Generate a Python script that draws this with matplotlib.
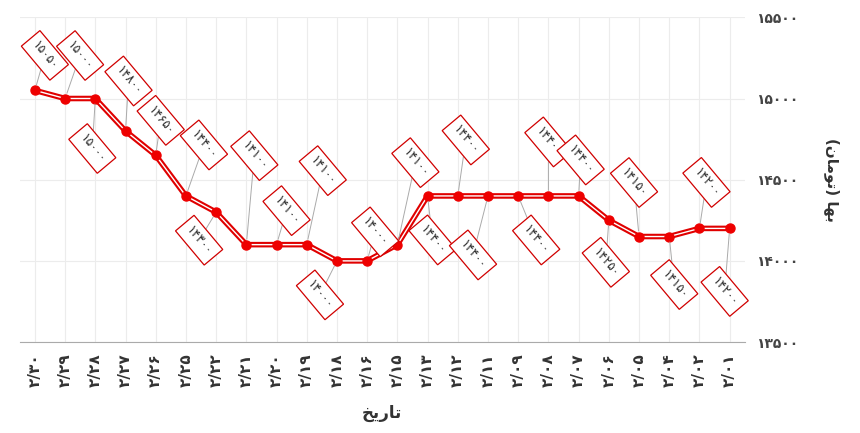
import matplotlib
matplotlib.use("Agg")
import matplotlib.pyplot as plt

dates = ["۲/۳۰","۲/۲۹","۲/۲۸","۲/۲۷","۲/۲۶","۲/۲۵","۲/۲۲","۲/۲۱","۲/۲۰","۲/۱۹","۲/۱۸","۲/۱۶",
         "۲/۱۵","۲/۱۳","۲/۱۲","۲/۱۱","۲/۰۹","۲/۰۸","۲/۰۷","۲/۰۶","۲/۰۵","۲/۰۴","۲/۰۲","۲/۰۱"]
prices = [15050,15000,15000,14800,14650,14400,14300,14100,14100,14100,14000,14000,
          14100,14400,14400,14400,14400,14400,14400,14250,14150,14150,14200,14200]
yticks = [13500,14000,14500,15000,15500]

def fa(n):
    return str(n).translate(str.maketrans("0123456789","۰۱۲۳۴۵۶۷۸۹"))

# label offsets in pixels - placement only
offs_px = [(10,35),(15,43),(-3,-50),(3,50),(5,35),(18,51),(-17,-28),(8,89),(10,34),(16,74),(-17,-34),(8,29),
           (18,82),(5,-44),(8,56),(-15,-59),(18,-44),(0,54),(2,36),(-3,-42),(-5,54),(5,-48),(7,46),(-5,-63)]
offs = [(a*0.72, b*0.72) for a, b in offs_px]

fig = plt.figure(figsize=(8.6,4.33), dpi=100)
ax = fig.add_axes([0.023,0.21,0.843,0.75])
x = list(range(len(dates)))
ax.plot(x, prices, color="#e00000", lw=4, zorder=3)
ax.plot(x, prices, color="white", lw=1.0, zorder=4)
ax.plot(x, prices, "o", color="#ee0000", ms=6.5, zorder=5)
for i,(p,o) in enumerate(zip(prices,offs)):
    ax.annotate(fa(p), (i,p), xytext=o, textcoords="offset points", rotation=-50,
                ha="center", va="center", fontsize=9, color="#333",
                bbox=dict(boxstyle="square,pad=0.45", fc="white", ec="#d00000", lw=0.9),
                arrowprops=dict(arrowstyle="-", color="#aaa", lw=0.7, shrinkA=0, shrinkB=4), zorder=6)
ax.set_xlim(-0.5, len(dates)-0.5)
ax.set_ylim(13500,15500)
ax.set_yticks(yticks)
ax.set_yticklabels([fa(t) for t in yticks], fontsize=10, fontweight="bold", color="#444")
ax.yaxis.tick_right()
ax.set_xticks(x)
ax.set_xticklabels(dates, rotation=90, fontsize=11, fontweight="bold", color="#333")
ax.grid(True, color="#ececec", lw=0.8)
for s in ["top","right","left"]:
    ax.spines[s].set_visible(False)
ax.spines["bottom"].set_color("#aaa")
ax.tick_params(length=0, pad=8)
ax.set_xlabel("ﺦﻳﺭﺎﺗ", fontsize=12, fontweight="bold", color="#333", labelpad=12)
ax.yaxis.set_label_position("right")
ax.set_ylabel("(ﻥﺎﻣﻮﺗ) ﺎﻬﺑ", fontsize=11, fontweight="bold", color="#333", rotation=270, labelpad=30)
fig.savefig("out.png", dpi=100)
